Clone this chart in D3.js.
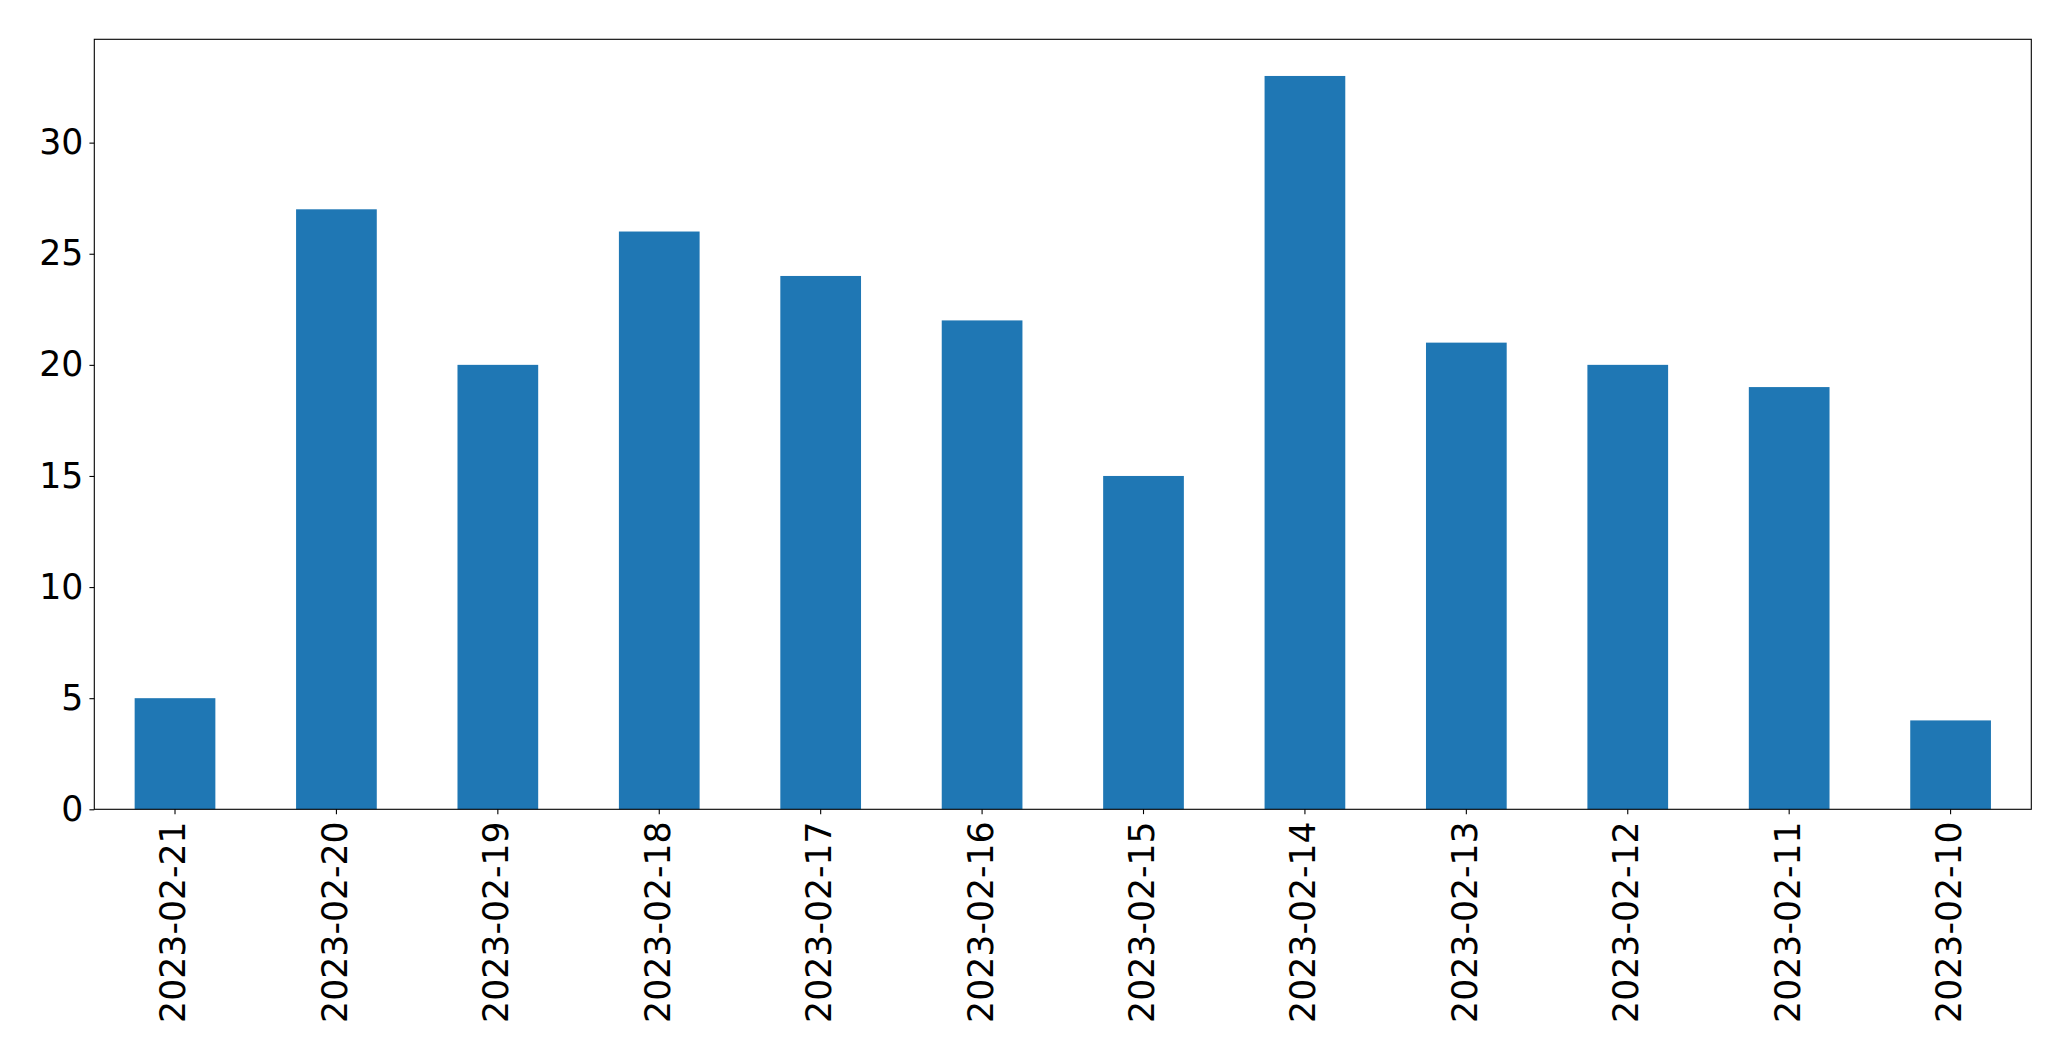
<!DOCTYPE html>
<html>
<head>
<meta charset="utf-8">
<script src="https://cdn.jsdelivr.net/npm/d3@7"></script>
<style>
html, body { margin: 0; padding: 0; background: #fff; }
svg { display: block; }
text { font-family: "DejaVu Sans", sans-serif; }
</style>
</head>
<body>
<script>
const categories = ["2023-02-21","2023-02-20","2023-02-19","2023-02-18","2023-02-17","2023-02-16","2023-02-15","2023-02-14","2023-02-13","2023-02-12","2023-02-11","2023-02-10"];
const values = [5, 27, 20, 26, 24, 22, 15, 33, 21, 20, 19, 4];
const yTicks = [0, 5, 10, 15, 20, 25, 30];

const W = 2071, H = 1061;
const margin = {left: 94.3, top: 39.3, right: W - 2031.3, bottom: H - 809.3};
const svg = d3.select("body").append("svg").attr("width", W).attr("height", H);

const x = d3.scaleBand().domain(categories).range([margin.left, W - margin.right]).paddingInner(0.5).paddingOuter(0.25);
const y = d3.scaleLinear().domain([0, d3.max(values) * 1.05]).range([H - margin.bottom, margin.top]);

const data = categories.map((c, i) => ({c, v: values[i]}));
svg.append("g").selectAll("rect").data(data).join("rect")
  .attr("x", d => x(d.c)).attr("width", x.bandwidth())
  .attr("y", d => y(d.v)).attr("height", d => y(0) - y(d.v))
  .attr("fill", "#1f77b4");

const fs = 34.7;
const yAxis = svg.append("g").attr("transform", `translate(${margin.left},0)`)
  .call(d3.axisLeft(y).tickValues(yTicks).tickSize(4.86).tickPadding(6));
yAxis.select(".domain").remove();
yAxis.selectAll("line").attr("stroke", "#000").attr("stroke-width", 1.1);
yAxis.selectAll("text").attr("font-size", fs).attr("fill", "#000").attr("font-family", "DejaVu Sans");

const xAxis = svg.append("g").attr("transform", `translate(0,${H - margin.bottom})`)
  .call(d3.axisBottom(x).tickSize(4.86).tickSizeOuter(0));
xAxis.select(".domain").remove();
xAxis.selectAll("line").attr("stroke", "#000").attr("stroke-width", 1.1);
xAxis.selectAll("text")
  .attr("font-size", fs).attr("fill", "#000").attr("font-family", "DejaVu Sans")
  .attr("transform", "rotate(-90)")
  .attr("x", -12).attr("y", 0).attr("dy", "0.3em")
  .attr("text-anchor", "end");

svg.append("rect")
  .attr("x", margin.left).attr("y", margin.top)
  .attr("width", W - margin.left - margin.right).attr("height", H - margin.top - margin.bottom)
  .attr("fill", "none").attr("stroke", "#000").attr("stroke-width", 1.1);
</script>
</body>
</html>
